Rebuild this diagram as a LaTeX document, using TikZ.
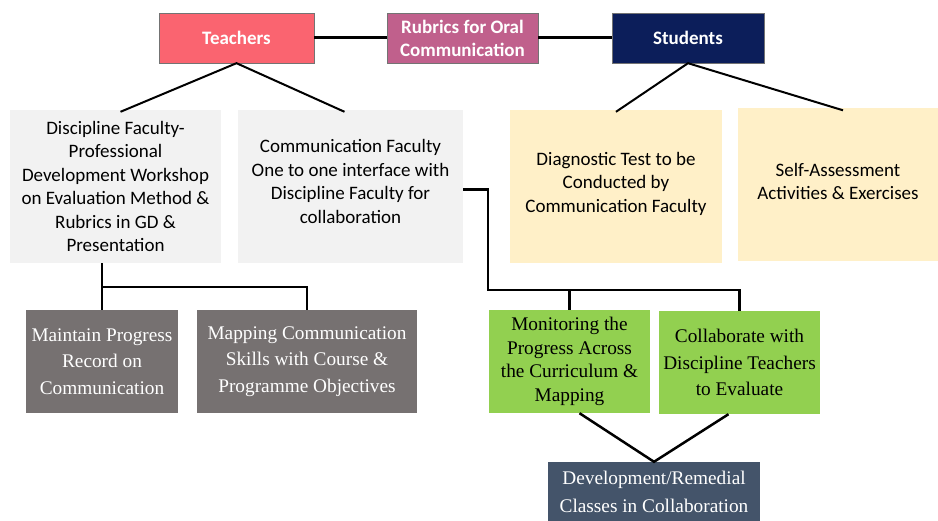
\documentclass[tikz,border=0pt]{standalone}
\usepackage{fontspec}
\setmainfont{Carlito}
\newfontfamily\romfont{Liberation Serif}

\definecolor{teachred}{RGB}{250,100,112}
\definecolor{rubpink}{RGB}{192,96,140}
\definecolor{stunavy}{RGB}{12,30,90}
\definecolor{palegrey}{RGB}{242,242,242}
\definecolor{paleyellow}{RGB}{255,240,200}
\definecolor{stonegrey}{RGB}{118,113,113}
\definecolor{leafgreen}{RGB}{146,208,80}
\definecolor{slateblue}{RGB}{68,84,106}

\tikzset{
	box/.style={rectangle,align=center,inner sep=2pt},
	headbox/.style={box,draw=black!55,thin,text=white,minimum height=50pt,font=\fontsize{19}{23}\selectfont\bfseries},
	notebox/.style={box,minimum height=153pt,font=\fontsize{19}{23.5}\selectfont},
	taskbox/.style={box,minimum height=103pt,font=\romfont\fontsize{19.3}{26.5}\selectfont},
	link/.style={line width=2.5pt},
}

\begin{document}
\begin{tikzpicture}[x=1pt,y=-1pt]
	\fill[white] (0,0) rectangle (938,521);
	\useasboundingbox (0,0) rectangle (938,521);
	
	\node[headbox,fill=teachred,minimum width=155pt] (teach) at (236.5,38) {Teachers};
	\node[headbox,fill=rubpink,minimum width=151pt] (rubric) at (462.5,38) {Rubrics for Oral\\Communication};
	\node[headbox,fill=stunavy,minimum width=152pt] (stud) at (688,38) {Students};
	
	\node[notebox,fill=palegrey,minimum width=211pt] (disc) at (115.5,186.5) {Discipline Faculty-\\Professional\\Development Workshop\\on Evaluation Method \&\\Rubrics in GD \&\\Presentation};
	\node[notebox,fill=palegrey,minimum width=225pt] (comm) at (350.5,186.5) {Communication Faculty\\One to one interface with\\Discipline Faculty for\\collaboration\\[-13.5pt]};
	\node[notebox,fill=paleyellow,minimum width=212pt] (diag) at (616,186.5) {Diagnostic Test to be\\Conducted by\\Communication Faculty\\[-14.5pt]};
	\node[notebox,fill=paleyellow,minimum width=200pt] (self) at (838,185) {Self-Assessment\\Activities \& Exercises\\[-16.5pt]};
	
	\node[taskbox,fill=stonegrey,text=white,minimum width=152pt] (maint) at (102,361.5) {Maintain Progress\\Record on\\Communication};
	\node[taskbox,fill=stonegrey,text=white,minimum width=220pt] (mapp) at (307,361.5) {Mapping Communication\\Skills with Course \&\\Programme Objectives};
	\node[taskbox,fill=leafgreen,minimum width=161pt,font=\romfont\fontsize{19.3}{23.5}\selectfont] (monit) at (569.5,361.5) {Monitoring the\\Progress Across\\the Curriculum \&\\Mapping};
	\node[taskbox,fill=leafgreen,minimum width=161pt] (collab) at (739.5,362.5) {Collaborate with\\Discipline Teachers\\to Evaluate};
	\node[taskbox,fill=slateblue,text=white,minimum width=212pt,minimum height=59pt,font=\romfont\fontsize{19.3}{28}\selectfont] (devel) at (654,491.5) {Development/Remedial\\Classes in Collaboration};
	
	\draw[link,line width=3pt] (teach.east) -- (rubric.west);
	\draw[link,line width=3pt] (rubric.east) -- (stud.west);
	
	\draw[link,line width=2pt] ([xshift=5pt,yshift=-2pt]disc.north) -- (teach.south) -- ([xshift=-6pt,yshift=-2pt]comm.north);
	\draw[link,line width=2pt] ([yshift=-2pt]diag.north) -- (stud.south) -- ([xshift=5pt,yshift=-2pt]self.north);
	
	\coordinate (tj) at (103,287);
	\draw[link] (disc.south -| maint.north) -- (maint.north);
	\draw[link] (maint.north |- tj) -| (mapp.north);
	
	\coordinate (sj) at (488,290);
	\draw[link] ([yshift=-3pt]comm.east) -| (sj) -| (collab.north);
	\draw[link] (monit.north |- sj) -- (monit.north);
	
	\draw[link] ([xshift=10pt]monit.south) -- (devel.north) -- ([xshift=-11pt]collab.south);
\end{tikzpicture}
\end{document}
